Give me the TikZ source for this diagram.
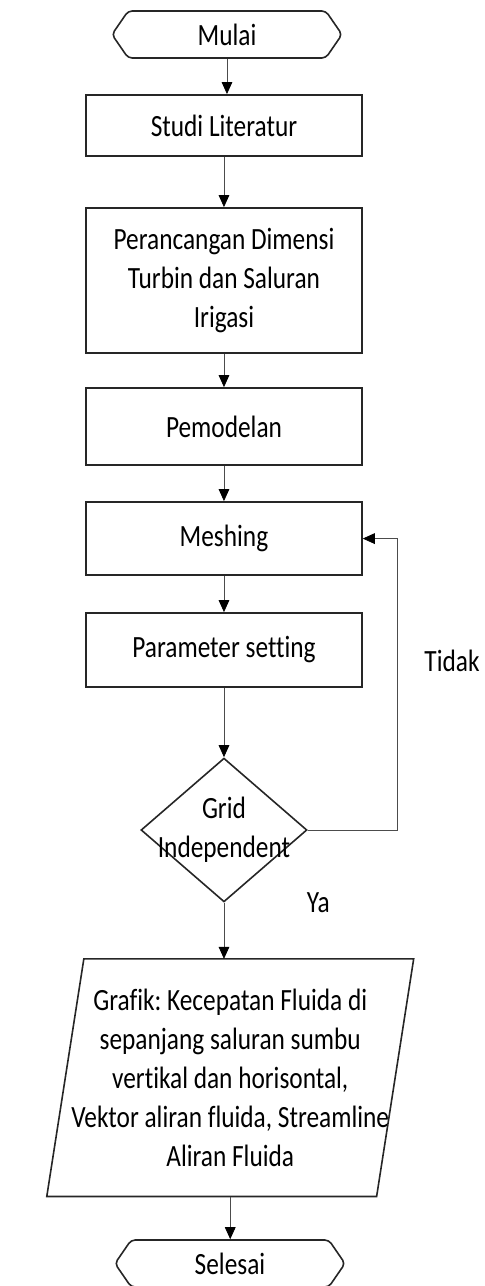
\documentclass[tikz,border=0pt]{standalone}
\usepackage{fontspec}
\setmainfont[Ligatures=NoCommon]{Carlito}
\usepackage{tikz}
\usetikzlibrary{shapes.geometric}
\usetikzlibrary{shapes.symbols}
\usetikzlibrary{arrows.meta}
\frenchspacing

\tikzset{
  boxline/.style={draw=black!85, line width=1.2pt},
  procbox/.style={boxline, rectangle, minimum width=207pt, inner sep=0pt, align=center},
  termbox/.style={boxline, signal, signal to=west and east, signal pointer angle=100,
    minimum width=172.5pt, minimum height=28.9pt, inner sep=0pt, rounded corners=3pt},
  decisionbox/.style={boxline, diamond, minimum width=124.5pt, minimum height=88.5pt, inner sep=0pt},
  iobox/.style={rectangle, minimum width=247pt, minimum height=145.7pt, inner sep=0pt, align=center},
  flowline/.style={draw=black!70, line width=0.6pt, -{Triangle[length=9pt,width=8pt,fill=black,color=black]}}
}

\begin{document}
\begin{tikzpicture}[x=0.75pt, y=-0.6148pt, yscale=1.22, transform shape,
    font=\fontsize{19pt}{24pt}\selectfont]
    \useasboundingbox (0,0) rectangle (485,1286);

    \node[termbox] (mulai) at (227,34.5) {Mulai};
    \node[procbox, minimum height=37.5pt] (studi) at (224,125.5) {Studi Literatur};
    \node[procbox, minimum height=89.1pt] (rancang) at (224,280.5)
    {Perancangan Dimensi\\Turbin dan Saluran\\Irigasi};
    \node[procbox, minimum height=47.3pt] (model) at (224,426.5) {Pemodelan};
    \node[procbox, minimum height=44.9pt] (mesh) at (224,538.5) {Meshing};
    \node[procbox, minimum height=45.5pt] (param) at (224,650) {Parameter setting};
    \node[decisionbox, label={[name=gridtxt, align=center]center:Grid\\Independent}]
    (grid) at (224,830) {};
    \node[iobox] (grafik) at (230.25,1077.5)
    {Grafik: Kecepatan Fluida di\\sepanjang saluran sumbu\\vertikal dan horisontal,\\Vektor aliran fluida, Streamline\\Aliran Fluida};
    \draw[boxline] ([xshift=13.9pt]grafik.north west) -- ([xshift=13.9pt]grafik.north east)
    -- ([xshift=-13.9pt]grafik.south east) -- ([xshift=-13.9pt]grafik.south west) -- cycle;
    \node[termbox] (selesai) at (230,1263.5) {Selesai};
    \coordinate (loop) at (397,830);

    \draw[flowline] (mulai.south) -- (mulai.south |- studi.north);
    \draw[flowline] (studi) -- (rancang);
    \draw[flowline] (rancang) -- (model);
    \draw[flowline] (model) -- (mesh);
    \draw[flowline] (mesh) -- (param);
    \draw[flowline] (param) -- (grid);
    \draw[flowline] (grid.east) -- (loop) |- (mesh.east)
    node[pos=0.29, anchor=west, xshift=17pt] (tidak) {Tidak};
    \draw[flowline] (grid.south) -- (grid.south |- grafik.north)
    node[pos=0, anchor=west, xshift=58.5pt] (ya) {Ya};
    \draw[flowline] (grafik.south) -- (grafik.south |- selesai.north);
  \end{tikzpicture}
\end{document}
